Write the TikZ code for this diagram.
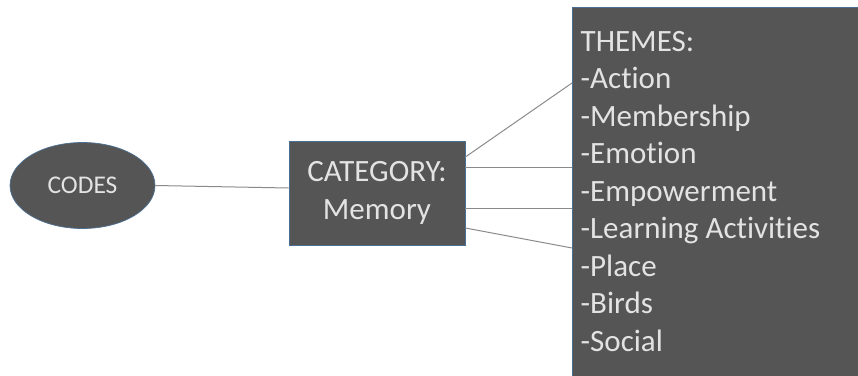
\documentclass[tikz,border=0pt]{standalone}
\usepackage{fontspec}
\setmainfont{Carlito}[Ligatures=NoCommon]
\usetikzlibrary{shapes.geometric}
\definecolor{boxfill}{HTML}{555555}
\definecolor{boxtext}{HTML}{E3E3E3}
\definecolor{boxedge}{HTML}{4A6F93}
\definecolor{linkgray}{HTML}{8A8A8A}
\begin{document}
\begin{tikzpicture}[x=1pt,y=-1pt,
  darkbox/.style={draw=boxedge, line width=0.7pt, fill=boxfill, text=boxtext, inner sep=0pt},
  link/.style={draw=linkgray, line width=1pt},
  big/.style={font=\fontsize{31}{37.5}\selectfont}]
\useasboundingbox (0,0) rectangle (858,375);
\node[darkbox, ellipse, minimum width=145pt, minimum height=86pt,
  font=\fontsize{25.5}{30}\selectfont] (codes) at (82.5,185.5) {CODES};
\node[darkbox, minimum width=176pt, minimum height=104pt, big, align=center] (cat) at (377,193) {CATEGORY:\\Memory};
\node[darkbox, anchor=north west, minimum width=290pt, minimum height=372pt] (themes) at (572,7) {};
\node[anchor=base west, inner sep=0pt, text=boxtext, big, align=left] (themelist) at (580.5,351)
  {THEMES:\\-Action\\-Membership\\-Emotion\\-Empowerment\\-Learning Activities\\-Place\\-Birds\\-Social};
\draw[link] (codes.east) -- ([yshift=5pt]cat.west);
\draw[link] ([yshift=36pt]cat.east) -- (themes.west |- 0,83);
\draw[link] ([yshift=26pt]cat.east) -- (themes.west |- 0,167);
\draw[link] ([yshift=-15pt]cat.east) -- (themes.west |- 0,208);
\draw[link] ([yshift=-35pt]cat.east) -- (themes.west |- 0,248);
\end{tikzpicture}
\end{document}
